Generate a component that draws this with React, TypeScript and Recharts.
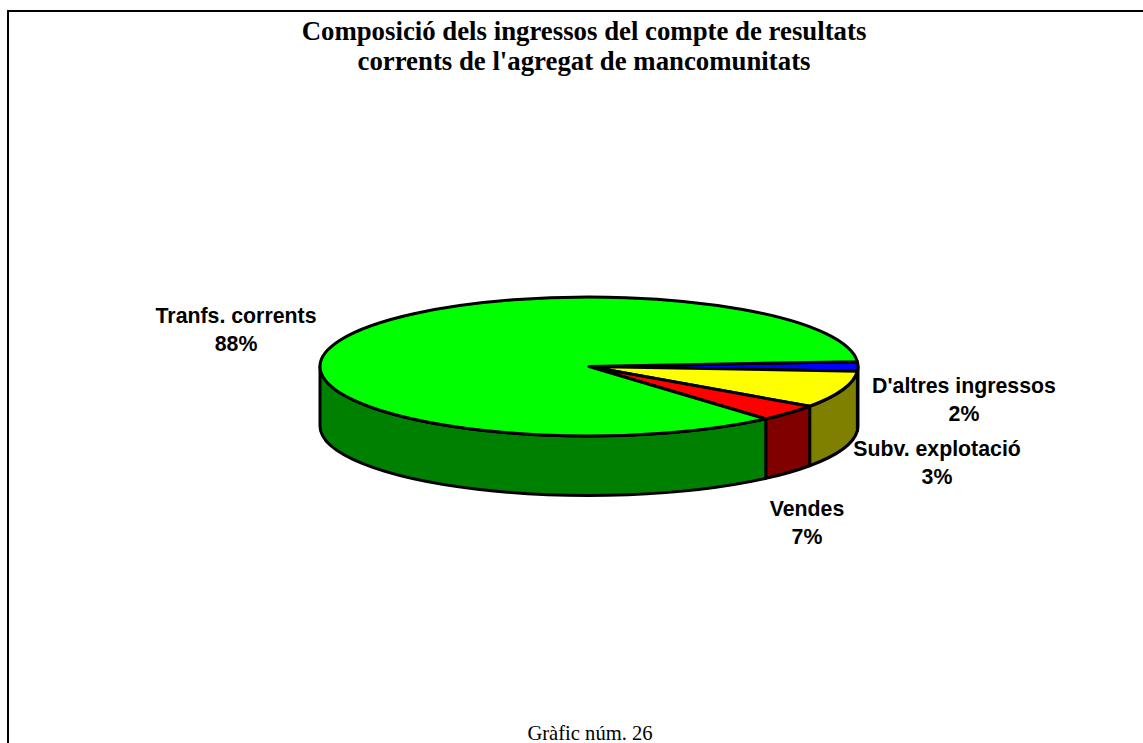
import React from "react";
import { PieChart, Pie } from "recharts";

const categories = ["D'altres ingressos", "Subv. explotació", "Vendes", "Tranfs. corrents"];
const percentLabels = ["2%", "3%", "7%", "88%"];
// slice sizes as they are drawn in the picture (share of the ellipse's angle)
const sliceShares = [2.2, 8.6, 3.9, 85.3];
const topColors = ["#0000ff", "#ffff00", "#ff0000", "#00ff00"];
const sideColors = ["#000080", "#808000", "#800000", "#008000"];
const titleLines = [
  "Composició dels ingressos del compte de resultats",
  "corrents de l'agregat de mancomunitats",
];
const footer = "Gràfic núm. 26";

const chartData = categories.map((name, i) => ({
  name,
  value: sliceShares[i],
  label: percentLabels[i],
  fill: topColors[i],
  side: sideColors[i],
}));

const WIDTH = 1143;
const HEIGHT = 743;
const CENTER_X = 589;
const CENTER_Y = 366.5;
const RADIUS_X = 269;
const RADIUS_Y = 69.5;
const DEPTH = 59.5;

// label centre and first baseline, relative to the pie centre
const labelOffsets = [
  { dx: 375, dy: 26.5 },
  { dx: 348, dy: 89.5 },
  { dx: 218, dy: 149.5 },
  { dx: -353, dy: -43.5 },
];

// recharts gives us the angles, we squash them onto the tilted ellipse
function TiltedSlice(props: any) {
  const { cx, cy, outerRadius, startAngle, endAngle, payload } = props;
  const ry = (outerRadius * RADIUS_Y) / RADIUS_X;
  const rim = (deg: number, dy = 0) => {
    const rad = (deg * Math.PI) / 180;
    return `${cx + outerRadius * Math.cos(rad)},${cy - ry * Math.sin(rad) + dy}`;
  };
  const large = Math.abs(startAngle - endAngle) > 180 ? 1 : 0;
  const top = `M${cx},${cy} L${rim(startAngle)} A${outerRadius},${ry} 0 ${large} 1 ${rim(endAngle)} Z`;

  // only the front half of the rim has a visible wall
  const wallFrom = Math.min(startAngle, 0);
  const wallTo = Math.max(endAngle, -180);
  const wall =
    wallFrom > wallTo
      ? `M${rim(wallFrom)} A${outerRadius},${ry} 0 0 1 ${rim(wallTo)} L${rim(wallTo, DEPTH)} A${outerRadius},${ry} 0 0 0 ${rim(wallFrom, DEPTH)} Z`
      : null;

  return (
    <g>
      {wall && <path d={wall} fill={payload.side} stroke="#000" strokeWidth={3} strokeLinejoin="round" />}
      <path d={top} fill={payload.fill} stroke="#000" strokeWidth={3} strokeLinejoin="round" />
    </g>
  );
}

function SliceLabel(props: any) {
  const { cx, cy, index, name, payload } = props;
  const x = cx + labelOffsets[index].dx;
  const y = cy + labelOffsets[index].dy;
  return (
    <text
      x={x}
      y={y}
      textAnchor="middle"
      fontFamily="'Liberation Sans', Arial, sans-serif"
      fontWeight="bold"
      fontSize={21.3}
      fill="#000"
    >
      <tspan x={x}>{name ?? payload.name}</tspan>
      <tspan x={x} dy={28}>
        {payload.label}
      </tspan>
    </text>
  );
}

export default function App() {
  return (
    <div
      style={{
        position: "absolute",
        left: 0,
        top: 0,
        width: WIDTH,
        height: HEIGHT,
        overflow: "hidden",
        background: "#fff",
      }}
    >
      {/* frame runs off the right and bottom of the page */}
      <div
        style={{
          position: "absolute",
          left: 7,
          top: 10,
          width: WIDTH,
          height: HEIGHT,
          borderLeft: "2px solid #000",
          borderTop: "2px solid #000",
        }}
      />
      <div style={{ position: "absolute", left: 0, top: 0 }}>
        <PieChart width={WIDTH} height={HEIGHT} margin={{ top: 0, right: 0, bottom: 0, left: 0 }}>
          <text
            textAnchor="middle"
            fontFamily="'Liberation Serif', 'Times New Roman', serif"
            fontWeight="bold"
            fontSize={26.8}
            fill="#000"
          >
            <tspan x={584} y={40}>
              {titleLines[0]}
            </tspan>
            <tspan x={584} y={70}>
              {titleLines[1]}
            </tspan>
          </text>
          <Pie
            data={chartData}
            dataKey="value"
            nameKey="name"
            cx={CENTER_X}
            cy={CENTER_Y}
            innerRadius={0}
            outerRadius={RADIUS_X}
            startAngle={4}
            endAngle={-356}
            shape={TiltedSlice}
            label={SliceLabel}
            labelLine={false}
            isAnimationActive={false}
          />
          <text
            x={590}
            y={740}
            textAnchor="middle"
            fontFamily="'Liberation Serif', 'Times New Roman', serif"
            fontSize={20.6}
            fill="#000"
          >
            {footer}
          </text>
        </PieChart>
      </div>
    </div>
  );
}
